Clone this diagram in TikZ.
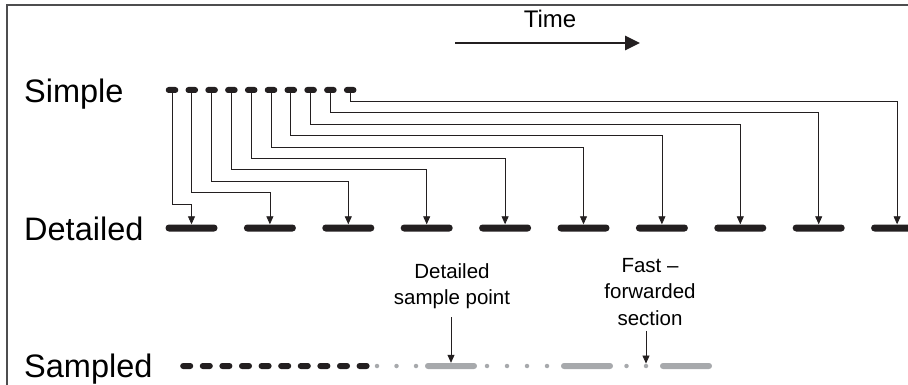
\documentclass[tikz,border=0pt]{standalone}
\usepackage{fontspec}
\setmainfont{Liberation Sans}
\usetikzlibrary{arrows.meta,calc}
\definecolor{ink}{HTML}{231F20}
\definecolor{lightink}{HTML}{A7A9AC}
\definecolor{framegray}{HTML}{4D4D4F}
\tikzset{
  simpledash/.style={rectangle,rounded corners=2.9pt,fill=ink,minimum width=12.5pt,minimum height=6pt,inner sep=0pt},
  detaildash/.style={rectangle,rounded corners=3.4pt,fill=ink,minimum width=52pt,minimum height=7pt,inner sep=0pt},
  sampledash/.style={simpledash,minimum width=13pt},
  graydash/.style={detaildash,fill=lightink,minimum height=6pt,rounded corners=2.9pt},
  graydot/.style={circle,fill=lightink,minimum size=4.5pt,inner sep=0pt},
  biglabel/.style={anchor=base west,inner sep=0pt,font=\fontsize{32.5}{38}\selectfont},
  smalllabel/.style={align=center,inner sep=0pt,font=\fontsize{20.5}{26.5}\selectfont},
  link/.style={draw=ink,line width=0.8pt,-{Triangle[width=7pt,length=8pt]}}
}

\begin{document}
\begin{tikzpicture}[x=1pt,y=-1pt]
\clip (0,0) rectangle (908,385);
\draw[framegray,line width=2pt] (6.6,385) -- (6.6,4.8) -- (908,4.8);

\node (time) [inner sep=0pt,font=\fontsize{24}{28}\selectfont] at (550,19) {Time};
\coordinate (t0) at (455,43);
\coordinate (t1) at (640,43);
\draw[ink,line width=2.8pt,-{Triangle[width=14pt,length=15pt]}] (t0) -- (t1);

\node (simple) [biglabel] at (24,103) {Simple};
\node (detailed) [biglabel] at (24,240) {Detailed};
\node (sampled) [biglabel] at (24,377) {Sampled};

\foreach \i in {1,...,10} {
  \node (s\i) [simpledash] at ({172+(\i-1)*19.8},90) {};
  \node (d\i) [detaildash] at ({191.5+(\i-1)*78.4},228) {};
  \node (p\i) [sampledash] at ({186.7+(\i-1)*19.6},366) {};
  \coordinate (lv\i) at (0,{215.4-11.4*\i});
}
\foreach \i in {1,...,10}
  \draw[link] (s\i.south) -- (s\i.south |- lv\i) -| (d\i.north);

\foreach \x [count=\k] in {377,396.5,416,487,507,527,547,626.5,646}
  \node (o\k) [graydot] at (\x,366) {};
\foreach \x [count=\k] in {451,587,686}
  \node (g\k) [graydash] at (\x,366) {};

\node (samplept) [smalllabel] at (452,286) {Detailed\\sample point};
\node (fastfwd) [smalllabel] at (650,292) {Fast \textendash\\forwarded\\section};
\draw[link,shorten <=8pt] (g1.north |- samplept.south) -- (g1.north);
\draw[link,shorten <=5pt] (o9.north |- fastfwd.south) -- (o9.north);
\end{tikzpicture}
\end{document}
